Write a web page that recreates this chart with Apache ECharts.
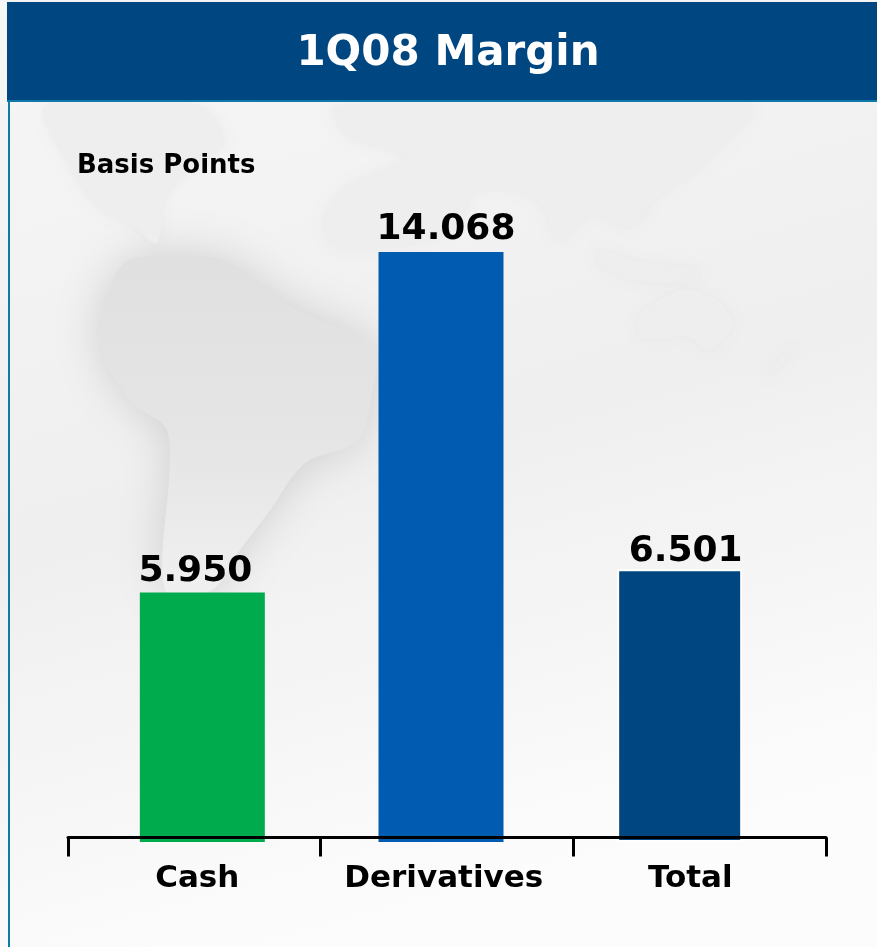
<!DOCTYPE html>
<html><head><meta charset="utf-8">
<style>html,body{margin:0;padding:0;background:#f4f4f4}#c{width:877px;height:947px}</style>
<script src="https://cdn.jsdelivr.net/npm/echarts@6/dist/echarts.min.js"></script>
</head><body><div id="c"></div>
<script>
const categories = ['Cash','Derivatives','Total'];
const values = [5950,14068,6501];
const valueLabels = ['5.950','14.068','6.501'];
const barColors = ['#00AB4E','#005BB1','#004782'];
const labelShift = [[-7,1],[5,0],[6,4]];

const chart = echarts.init(document.getElementById('c'));
const land = (pts,fill,blur,shadow)=>({type:'polygon',silent:true,z:-5,
  shape:{points:pts,smooth:0.3},
  style:{fill:fill,shadowBlur:blur,shadowColor:shadow}});
const southAmerica = [[129,260],[224,260],[291,307],[378,347],[375,377],[358,440],[305,463],[268,513],[240,550],[212,590],[165,590],[168,433],[129,400],[98,340],[106,300]];
const northAmerica = [[45,106],[201,106],[224,143],[190,170],[165,200],[157,243],[134,227],[100,210],[73,173]];
const eurasiaAfrica = [[324,217],[347,187],[403,157],[347,137],[335,106],[750,106],[700,167],[654,200],[632,227],[590,215],[559,240],[537,200],[480,190],[447,233],[358,250],[330,243]];
const indonesia = [[598,250],[640,262],[700,270],[690,282],[630,280],[600,265]];
const australia = [[638,317],[682,290],[716,300],[733,323],[710,350],[688,337],[643,338]];
const newZealand = [[791,348],[786,360],[768,378],[772,368]];
const faint = [northAmerica,eurasiaAfrica,indonesia,australia,newZealand];
chart.setOption({
  animation:false,
  backgroundColor:'transparent',
  graphic:[
    {type:'rect',z:-10,silent:true,shape:{x:0,y:0,width:877,height:947},
     style:{fill:{type:'linear',x:0,y:0,x2:0.3,y2:1,colorStops:[{offset:0,color:'#f6f6f6'},{offset:0.55,color:'#efefef'},{offset:1,color:'#fcfcfc'}]}}},
    land(southAmerica,{type:'linear',x:0,y:0,x2:0,y2:1,colorStops:[{offset:0,color:'#e0e0e0'},{offset:0.55,color:'#e5e5e5'},{offset:1,color:'#f0f0f0'}]},45,'rgba(0,0,0,0.14)'),
    ...faint.map(p=>land(p,'#eeeeee',10,'rgba(0,0,0,0.03)')),
    {type:'rect',z:-1,silent:true,shape:{x:0,y:0,width:877,height:2},style:{fill:'#f4f4f4'}},
    {type:'rect',z:-1,silent:true,shape:{x:7,y:2,width:870,height:98},style:{fill:'#004782'}},
    {type:'rect',z:-1,silent:true,shape:{x:7,y:100,width:870,height:2},style:{fill:'#0F7AA8'}},
    {type:'rect',z:-1,silent:true,shape:{x:8,y:100,width:2,height:847},style:{fill:'#0F7AA8'}},
    {type:'text',z:3,silent:true,x:77,y:166,style:{text:'Basis Points',fill:'#000',font:'bold 26px "DejaVu Sans"',textVerticalAlign:'middle'}},
    {type:'text',z:3,silent:true,x:448,y:54,style:{text:'1Q08 Margin',fill:'#fff',font:'bold 42px "DejaVu Sans"',textAlign:'center',textVerticalAlign:'middle'}}
  ],
  grid:[
    {left:83,top:171,width:716,height:671},
    {left:68,top:171,width:758,height:666.5},
    {left:74,top:171,width:739.5,height:666.5}
  ],
  xAxis:[
    {gridIndex:0,type:'category',data:categories,show:false},
    {gridIndex:1,type:'category',data:categories,z:6,
      axisLine:{show:true,lineStyle:{color:'#000',width:3}},
      axisTick:{show:true,length:19,lineStyle:{color:'#000',width:3}},
      axisLabel:{show:false}},
    {gridIndex:2,type:'category',data:categories,
      axisLine:{show:false},axisTick:{show:false},
      axisLabel:{show:true,interval:0,margin:26,color:'#000',fontFamily:'DejaVu Sans',fontWeight:'bold',fontSize:31}}
  ],
  yAxis:[
    {gridIndex:0,type:'value',min:0,max:16000,show:false},
    {gridIndex:1,type:'value',min:0,max:16000,show:false},
    {gridIndex:2,type:'value',min:0,max:16000,show:false}
  ],
  series:[{
    type:'bar',xAxisIndex:0,yAxisIndex:0,barWidth:125,z:2,
    data:values.map((v,i)=>({
      value:v,
      itemStyle:{color:barColors[i],borderColor:i===2?'#fff':barColors[i],borderWidth:i===2?2:0},
      label:{show:true,position:'top',distance:4,offset:labelShift[i],
        formatter:valueLabels[i],color:'#000',fontFamily:'DejaVu Sans',fontWeight:'bold',fontSize:36}
    }))
  }]
});
</script></body></html>
